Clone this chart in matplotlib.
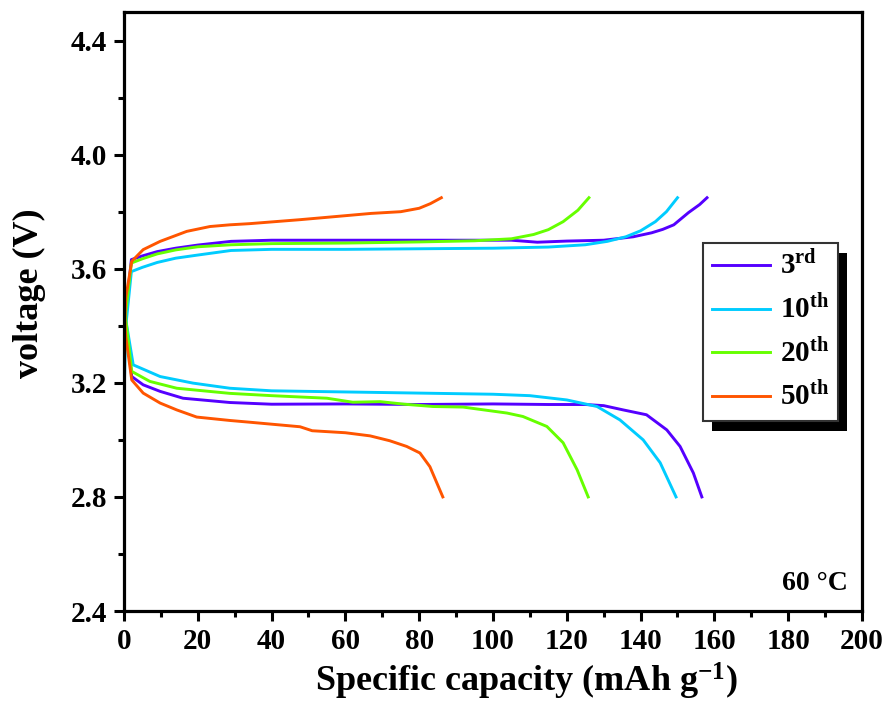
import matplotlib
matplotlib.use("Agg")
import matplotlib.pyplot as plt
from matplotlib.patches import Rectangle
from matplotlib.ticker import MultipleLocator, FormatStrFormatter

plt.rcParams["font.family"] = ["Liberation Serif", "DejaVu Serif"]
plt.rcParams["font.weight"] = "bold"
plt.rcParams["mathtext.fontset"] = "custom"
plt.rcParams["mathtext.rm"] = "Liberation Serif:bold"
plt.rcParams["mathtext.bf"] = "Liberation Serif:bold"
plt.rcParams["mathtext.it"] = "Liberation Serif:bold"

labels = ["3$^{\\mathrm{rd}}$", "10$^{\\mathrm{th}}$", "20$^{\\mathrm{th}}$", "50$^{\\mathrm{th}}$"]
colors = ["#5500FF", "#00CCFF", "#66FF00", "#FF5500"]

# charge curves (capacity, voltage)
chg_3_x = [0, 0.5, 2, 5, 9, 14, 20, 29, 40, 60, 80, 95, 105, 112, 120, 130, 138, 143, 146, 149, 153, 156, 158]
chg_3_y = [3.30, 3.45, 3.632, 3.645, 3.66, 3.672, 3.683, 3.696, 3.70, 3.70, 3.70, 3.70, 3.70, 3.693, 3.697, 3.70, 3.712, 3.726, 3.738, 3.754, 3.797, 3.825, 3.849]
chg_10_x = [0, 0.5, 2, 5, 9, 14, 20, 29, 40, 60, 80, 100, 115, 125, 131, 136, 140, 144, 147, 150]
chg_10_y = [3.14, 3.40, 3.59, 3.605, 3.622, 3.637, 3.648, 3.664, 3.668, 3.668, 3.670, 3.672, 3.676, 3.684, 3.696, 3.712, 3.733, 3.765, 3.80, 3.849]
chg_20_x = [0, 0.5, 2, 5, 9, 14, 20, 29, 40, 60, 80, 95, 105, 111, 115, 119, 123, 126]
chg_20_y = [3.25, 3.45, 3.62, 3.635, 3.652, 3.666, 3.677, 3.684, 3.688, 3.690, 3.694, 3.698, 3.705, 3.72, 3.737, 3.765, 3.805, 3.849]
chg_50_x = [0, 0.5, 2.1, 5.2, 9.8, 17, 23.3, 28.7, 34, 47.7, 53, 60, 67, 75, 80, 83, 86]
chg_50_y = [3.35, 3.50, 3.626, 3.667, 3.696, 3.731, 3.748, 3.754, 3.758, 3.772, 3.778, 3.786, 3.794, 3.80, 3.812, 3.828, 3.849]

# discharge curves
dis_3_x = [0, 0.5, 2.1, 5.2, 9.8, 16, 28.7, 40, 60, 80, 100, 115, 125, 130, 135.3, 141.6, 147.1, 150.7, 154.3, 156.6]
dis_3_y = [3.50, 3.40, 3.222, 3.193, 3.17, 3.146, 3.131, 3.125, 3.126, 3.124, 3.126, 3.124, 3.124, 3.12, 3.105, 3.088, 3.035, 2.977, 2.884, 2.80]
dis_10_x = [0, 0.5, 2.5, 9.8, 18.7, 28.7, 40, 60, 80, 100, 110, 120, 128.2, 134.4, 140.7, 145.3, 149.6]
dis_10_y = [3.50, 3.42, 3.263, 3.222, 3.199, 3.181, 3.172, 3.168, 3.164, 3.16, 3.155, 3.14, 3.117, 3.07, 3.0, 2.92, 2.80]
dis_20_x = [0, 0.5, 2.1, 7, 14.3, 28.7, 40, 55, 62, 69.4, 76, 83.7, 91.9, 103.8, 108.1, 114.6, 119, 122.8, 125.8]
dis_20_y = [3.52, 3.42, 3.24, 3.205, 3.181, 3.163, 3.155, 3.146, 3.132, 3.134, 3.125, 3.117, 3.115, 3.094, 3.082, 3.047, 2.99, 2.895, 2.80]
dis_50_x = [0, 0.5, 2.1, 5.2, 9.8, 14.3, 19.7, 28.7, 34, 47.7, 51, 60, 66.7, 72, 76.6, 80.2, 82.9, 86.4]
dis_50_y = [3.45, 3.36, 3.21, 3.164, 3.129, 3.105, 3.08, 3.068, 3.062, 3.046, 3.032, 3.025, 3.014, 2.997, 2.977, 2.954, 2.906, 2.80]

charge = [(chg_3_x, chg_3_y), (chg_10_x, chg_10_y), (chg_20_x, chg_20_y), (chg_50_x, chg_50_y)]
discharge = [(dis_3_x, dis_3_y), (dis_10_x, dis_10_y), (dis_20_x, dis_20_y), (dis_50_x, dis_50_y)]

fig = plt.figure(figsize=(8.87, 7.08), dpi=100)
ax = fig.add_axes([0.1398, 0.137, 0.832, 0.846])

for (cx, cy), (dx, dy), c, lab in zip(charge, discharge, colors, labels):
    ax.plot(cx, cy, color=c, lw=2.1, label=lab)
    ax.plot(dx, dy, color=c, lw=2.1)

ax.set_xlim(0, 200)
ax.set_ylim(2.4, 4.5)
ax.xaxis.set_major_locator(MultipleLocator(20))
ax.xaxis.set_minor_locator(MultipleLocator(10))
ax.yaxis.set_major_locator(MultipleLocator(0.4))
ax.yaxis.set_minor_locator(MultipleLocator(0.2))
ax.yaxis.set_major_formatter(FormatStrFormatter("%.1f"))
ax.tick_params(which="major", direction="out", length=7, width=2.2, labelsize=21, pad=5)
ax.tick_params(which="minor", direction="out", length=4, width=2.2)
for s in ax.spines.values():
    s.set_linewidth(2.3)

ax.set_xlabel("Specific capacity (mAh g$^{-1}$)", fontsize=26, fontweight="bold")
ax.xaxis.set_label_coords(0.546, -0.083)
ax.set_ylabel("voltage (V)", fontsize=26, fontweight="bold")
ax.yaxis.set_label_coords(-0.106, 0.531)
ax.text(0.981, 0.025, "60 \u00b0C", transform=ax.transAxes, ha="right", va="bottom",
        fontsize=20, fontweight="bold")

leg = ax.legend(loc="upper left", bbox_to_anchor=(0.7846, 0.614), fontsize=21, frameon=True,
                fancybox=False, framealpha=1, handlelength=2.0, labelspacing=0.5,
                borderpad=0.3, handletextpad=0.35, borderaxespad=0)
leg.get_frame().set_edgecolor("#333333")
leg.get_frame().set_linewidth(1.5)
leg.set_zorder(10)

# black offset shadow behind the legend box
fig.canvas.draw()
bb = leg.get_window_extent().transformed(ax.transAxes.inverted())
ax.add_patch(Rectangle((bb.x0 + 9 / 738, bb.y0 - 10 / 599), bb.width, bb.height,
                       transform=ax.transAxes, facecolor="black", edgecolor="none",
                       zorder=9, clip_on=False))

fig.savefig("out.png", dpi=100)
